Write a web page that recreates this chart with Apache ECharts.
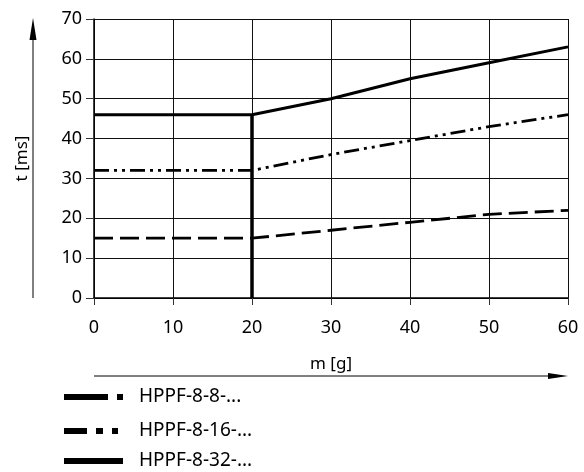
<!DOCTYPE html>
<html>
<head>
<meta charset="utf-8">
<script src="https://cdn.jsdelivr.net/npm/echarts@6/dist/echarts.min.js"></script>
<style>html,body{margin:0;padding:0;background:#fff;}#c{width:584px;height:472px;}</style>
</head>
<body>
<div id="c"></div>
<script>
var massX = [0, 20, 30, 40, 50, 60];
var tHPPF8 = [15, 15, 17, 19, 21, 22];
var tHPPF16 = [32, 32, 36, 39.5, 43, 46];
var tHPPF32 = [46, 46, 50, 55, 59, 63];
var limitX = [20, 20];
var limitY = [0, 46];
var seriesNames = ['HPPF-8-8-...', 'HPPF-8-16-...', 'HPPF-8-32-...'];
var xTicks = [0, 10, 20, 30, 40, 50, 60];
var yTicks = [0, 10, 20, 30, 40, 50, 60, 70];

function pairs(xs, ys) { return xs.map(function (x, i) { return [x, ys[i]]; }); }

var FONT = 'Noto Sans';
var legendIcons = [
  'path://M0,0h44v6h-44zM53,0h6v6h-6z',
  'path://M0,0h23v6h-23zM32,0h7v6h-7zM48,0h6v6h-6z',
  'path://M0,0h59v6h-59z'
];
var legendWidths = [59, 54, 59];
var legendTops = [386, 420, 450];

function makeLegend(i) {
  return {
    orient: 'horizontal', left: 64, top: legendTops[i], padding: 0,
    itemWidth: legendWidths[i], itemHeight: 14,
    selectedMode: false,
    itemStyle: { color: '#000', borderWidth: 0 },
    textStyle: { color: '#000', fontSize: 19, lineHeight: 22, fontFamily: FONT, padding: [0, 0, 0, 70 - legendWidths[i]] },
    data: [{ name: seriesNames[i], icon: legendIcons[i] }]
  };
}

var chart = echarts.init(document.getElementById('c'), null, { renderer: 'canvas' });
chart.setOption({
  animation: false,
  backgroundColor: '#fff',
  textStyle: { fontFamily: FONT },
  grid: { left: 94, right: 16, top: 19, bottom: 174, containLabel: false },
  xAxis: {
    type: 'value', min: xTicks[0], max: xTicks[xTicks.length - 1], interval: 10,
    name: 'm [g]', nameLocation: 'middle', nameGap: 58,
    nameTextStyle: { color: '#000', fontSize: 17, fontFamily: FONT },
    axisLine: { show: true, onZero: false, lineStyle: { color: '#000', width: 1.5 } },
    axisTick: { show: true, inside: false, length: 7, lineStyle: { color: '#333', width: 1 } },
    axisLabel: { color: '#000', fontSize: 18, margin: 21, fontFamily: FONT },
    splitLine: { show: true, lineStyle: { color: '#111', width: 1 } }
  },
  yAxis: {
    type: 'value', min: yTicks[0], max: yTicks[yTicks.length - 1], interval: 10,
    name: 't [ms]', nameLocation: 'middle', nameGap: 63, nameRotate: 90,
    nameTextStyle: { color: '#000', fontSize: 17, fontFamily: FONT },
    axisLine: { show: true, onZero: false, lineStyle: { color: '#000', width: 1.5 } },
    axisTick: { show: true, inside: false, length: 8, lineStyle: { color: '#333', width: 1 } },
    axisLabel: { color: '#000', fontSize: 18, margin: 12, fontFamily: FONT },
    splitLine: { show: true, lineStyle: { color: '#111', width: 1 } }
  },
  legend: [makeLegend(0), makeLegend(1), makeLegend(2)],
  graphic: [
    { type: 'line', shape: { x1: 33, y1: 298, x2: 33, y2: 38 }, style: { stroke: '#000', lineWidth: 1 } },
    { type: 'polygon', shape: { points: [[33, 18], [29.5, 40], [36.5, 40]] }, style: { fill: '#000' } },
    { type: 'line', shape: { x1: 94, y1: 376, x2: 550, y2: 376 }, style: { stroke: '#000', lineWidth: 1 } },
    { type: 'polygon', shape: { points: [[568, 376], [548, 373], [548, 379]] }, style: { fill: '#000' } }
  ],
  series: [
    { name: seriesNames[0], type: 'line', data: pairs(massX, tHPPF8), symbol: 'none', showSymbol: false,
      color: '#000', lineStyle: { color: '#000', width: 2.8, type: [19, 7] }, z: 3 },
    { name: seriesNames[1], type: 'line', data: pairs(massX, tHPPF16), symbol: 'none', showSymbol: false,
      color: '#000', lineStyle: { color: '#000', width: 2.8, type: [15, 5, 3, 5, 3, 5] }, z: 3 },
    { name: seriesNames[2], type: 'line', data: pairs(massX, tHPPF32), symbol: 'none', showSymbol: false,
      color: '#000', lineStyle: { color: '#000', width: 3, type: 'solid' }, z: 3 },
    { name: 'limit', type: 'line', data: pairs(limitX, limitY), symbol: 'none', showSymbol: false,
      color: '#000', lineStyle: { color: '#000', width: 3.5, type: 'solid' }, z: 4, silent: true }
  ]
});
</script>
</body>
</html>
